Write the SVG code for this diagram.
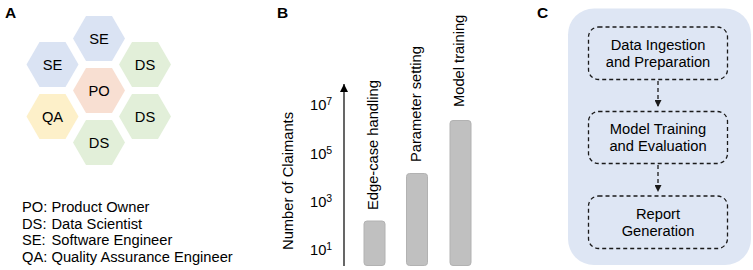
<svg xmlns="http://www.w3.org/2000/svg" width="753" height="270" viewBox="0 0 753 270">
<defs>
<style>
text{font-family:"Liberation Sans",Arial,sans-serif;font-size:14.7px;fill:#000}
.panel{font-weight:bold;font-size:15.5px}
.hx{text-anchor:middle}
.se{fill:#dae3f3}
.ds{fill:#e2efd9}
.po{fill:#f8dfd2}
.qa{fill:#fdf0c9}
.bar{fill:#c0c0c0;stroke:#b2b2b2;stroke-width:1}
.box{fill:none;stroke:#1a1a1a;stroke-width:1.3;stroke-dasharray:4 3}
.c{text-anchor:middle}
.sup{font-size:10.5px}
</style>
<polygon id="hex" points="-26,0 -13,-22.5 13,-22.5 26,0 13,22.5 -13,22.5"/>
<marker id="ah" viewBox="0 0 10 10" refX="10" refY="5" markerWidth="7" markerHeight="7" markerUnits="userSpaceOnUse" orient="auto"><path d="M0,0 L10,5 L0,10 Z" fill="#1a1a1a"/></marker>
<marker id="ah2" viewBox="0 0 10 10" refX="10" refY="5" markerWidth="9" markerHeight="8" markerUnits="userSpaceOnUse" orient="auto"><path d="M0,0 L10,5 L0,10 Z" fill="#000"/></marker>
</defs>

<!-- Panel A -->
<text class="panel" x="5" y="18">A</text>
<g id="hex-se-top"><use href="#hex" class="se" x="99" y="38.5"/><text class="hx" x="99" y="43.5">SE</text></g>
<g id="hex-se-left"><use href="#hex" class="se" x="52.5" y="64.5"/><text class="hx" x="52.5" y="69.5">SE</text></g>
<g id="hex-ds-right-top"><use href="#hex" class="ds" x="145" y="64.5"/><text class="hx" x="145" y="69.5">DS</text></g>
<g id="hex-po"><use href="#hex" class="po" x="99" y="90.5"/><text class="hx" x="99" y="95.5">PO</text></g>
<g id="hex-qa"><use href="#hex" class="qa" x="52.5" y="116.5"/><text class="hx" x="52.5" y="121.5">QA</text></g>
<g id="hex-ds-right-bottom"><use href="#hex" class="ds" x="145" y="116.5"/><text class="hx" x="145" y="121.5">DS</text></g>
<g id="hex-ds-bottom"><use href="#hex" class="ds" x="99" y="142.5"/><text class="hx" x="99" y="147.5">DS</text></g>
<g id="legend">
<text x="22" y="211.5">PO:<tspan x="51.5">Product Owner</tspan></text>
<text x="22" y="228.5">DS:<tspan x="51.5">Data Scientist</tspan></text>
<text x="22" y="245">SE:<tspan x="51.5">Software Engineer</tspan></text>
<text x="22" y="262">QA:<tspan x="51.5">Quality Assurance Engineer</tspan></text>
</g>

<!-- Panel B -->
<text class="panel" x="277" y="18">B</text>
<g id="axis">
<line x1="344" y1="266" x2="344" y2="84" stroke="#000" stroke-width="1.2" marker-end="url(#ah2)"/>
<text x="310" y="110">10<tspan class="sup" dy="-5">7</tspan></text>
<text x="310" y="159">10<tspan class="sup" dy="-5">5</tspan></text>
<text x="310" y="207">10<tspan class="sup" dy="-5">3</tspan></text>
<text x="310" y="255">10<tspan class="sup" dy="-5">1</tspan></text>
<text class="c" transform="translate(293,181) rotate(-90)">Number of Claimants</text>
</g>
<g id="bar-edge-case"><rect class="bar" x="364" y="221" width="21" height="44.5" rx="3"/><text transform="translate(377.5,210) rotate(-90)">Edge-case handling</text></g>
<g id="bar-parameter"><rect class="bar" x="406.5" y="173.5" width="21" height="92" rx="3"/><text transform="translate(421,162) rotate(-90)">Parameter setting</text></g>
<g id="bar-model"><rect class="bar" x="450" y="120.5" width="21" height="145" rx="3"/><text transform="translate(463.5,107) rotate(-90)">Model training</text></g>

<!-- Panel C -->
<text class="panel" x="537" y="18">C</text>
<rect id="pipeline-bg" x="568" y="8.5" width="183" height="256.5" rx="26" fill="#dee6f4"/>
<g id="box-ingestion"><rect class="box" x="588.5" y="27" width="139" height="52.5" rx="10"/><text class="c" x="658" y="49.5">Data Ingestion</text><text class="c" x="658" y="66.5">and Preparation</text></g>
<g id="box-training"><rect class="box" x="588.5" y="111.5" width="139" height="52" rx="10"/><text class="c" x="658" y="133.5">Model Training</text><text class="c" x="658" y="150.5">and Evaluation</text></g>
<g id="box-report"><rect class="box" x="588.5" y="196" width="139" height="52.5" rx="10"/><text class="c" x="658" y="218.5">Report</text><text class="c" x="658" y="235.5">Generation</text></g>
<g id="connectors">
<line x1="658" y1="81" x2="658" y2="107" stroke="#1a1a1a" stroke-width="1.3" stroke-dasharray="4 3" marker-end="url(#ah)"/>
<line x1="658" y1="165" x2="658" y2="192" stroke="#1a1a1a" stroke-width="1.3" stroke-dasharray="4 3" marker-end="url(#ah)"/>
</g>
</svg>
